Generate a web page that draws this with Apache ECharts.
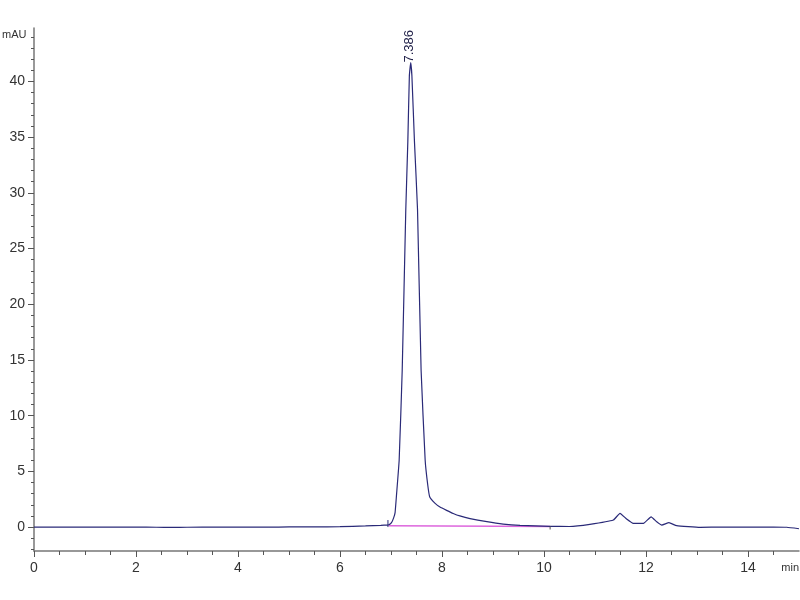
<!DOCTYPE html>
<html>
<head>
<meta charset="utf-8">
<script src="https://cdn.jsdelivr.net/npm/echarts@6/dist/echarts.min.js"></script>
<style>
html,body{margin:0;padding:0;background:#fff;}
#chart{width:800px;height:600px;}
</style>
</head>
<body>
<div id="chart"></div>
<script>
// Chromatogram trace (time in min, signal in mAU)
var timeMin = [0, 1, 2, 2.4, 2.7, 3, 3.6, 4, 4.6, 5, 5.5, 6, 6.5, 6.8, 6.93, 6.96, 7.01, 7.05, 7.08, 7.11, 7.16, 7.22, 7.29, 7.33, 7.36, 7.386, 7.41, 7.46, 7.52, 7.59, 7.67, 7.72, 7.76, 7.86, 7.96, 8.09, 8.22, 8.35, 8.55, 8.88, 9.2, 9.53, 10.12, 10.5, 10.9, 11.36, 11.49, 11.62, 11.75, 11.95, 12.1, 12.21, 12.31, 12.45, 12.6, 13.06, 13.5, 14, 14.5, 14.76, 15];
var signalMAU = [0, 0, 0, -0.02, -0.03, -0.02, -0.01, 0, -0.01, 0.01, 0.02, 0.03, 0.1, 0.15, 0.18, 0.2, 0.4, 0.8, 1.3, 3.0, 6.0, 14.1, 28.5, 34.6, 40.5, 41.7, 40.5, 34.6, 28.5, 14.1, 6.0, 3.8, 2.7, 2.15, 1.8, 1.5, 1.22, 1.0, 0.76, 0.48, 0.27, 0.15, 0.06, 0.05, 0.24, 0.63, 1.23, 0.72, 0.33, 0.33, 0.92, 0.48, 0.18, 0.39, 0.12, -0.03, 0, 0, 0, -0.02, -0.15];

// Integration baseline
var baselineTime = [6.96, 10.12];
var baselineMAU = [0.12, 0.06];
// Peak start / end markers
var startMarkTime = [6.94, 6.94];
var startMarkMAU = [0, 0.63];
var endMarkTime = [10.12, 10.12];
var endMarkMAU = [0.06, -0.22];

// Peak annotation
var peakTime = 7.386;
var peakHeight = 41.7;
var peakLabel = '7.386';

// Axes ticks
var xMajorTicks = [0, 2, 4, 6, 8, 10, 12, 14];
var xMinorTicks = [0.5, 1, 1.5, 2.5, 3, 3.5, 4.5, 5, 5.5, 6.5, 7, 7.5, 8.5, 9, 9.5, 10.5, 11, 11.5, 12.5, 13, 13.5, 14.5];
var yMajorTicks = [0, 5, 10, 15, 20, 25, 30, 35, 40];
var yMinorTicks = [-2, -1, 1, 2, 3, 4, 6, 7, 8, 9, 11, 12, 13, 14, 16, 17, 18, 19, 21, 22, 23, 24, 26, 27, 28, 29, 31, 32, 33, 34, 36, 37, 38, 39, 41, 42, 43, 44];

function pairs(xs, ys) { return xs.map(function (x, i) { return [x, ys[i]]; }); }

var FONT = '"Liberation Sans Narrow", "Liberation Sans", Arial, sans-serif';
var X_MIN = 0, X_MAX = 15, Y_MIN = -2.15, Y_MAX = 44.8;

var chart = echarts.init(document.getElementById('chart'));
chart.setOption({
  animation: false,
  backgroundColor: '#ffffff',
  grid: { left: 34, right: 1, top: 28, bottom: 49 },
  xAxis: [
    {
      type: 'value', min: X_MIN, max: X_MAX, position: 'bottom',
      axisLine: { show: true, onZero: false, lineStyle: { color: '#777', width: 1.5 } },
      axisTick: { show: true, length: 6, customValues: xMajorTicks, lineStyle: { color: '#555' } },
      axisLabel: { show: true, customValues: xMajorTicks, margin: 10, color: '#333', fontSize: 14, fontFamily: FONT },
      splitLine: { show: false }
    },
    {
      type: 'value', min: X_MIN, max: X_MAX, position: 'bottom',
      axisLine: { show: false, onZero: false },
      axisTick: { show: true, length: 4, customValues: xMinorTicks, lineStyle: { color: '#555' } },
      axisLabel: { show: false },
      splitLine: { show: false }
    }
  ],
  yAxis: [
    {
      type: 'value', min: Y_MIN, max: Y_MAX, position: 'left',
      axisLine: { show: true, onZero: false, lineStyle: { color: '#777', width: 1.5 } },
      axisTick: { show: true, length: 6, customValues: yMajorTicks, lineStyle: { color: '#555' } },
      axisLabel: { show: true, customValues: yMajorTicks, margin: 9, color: '#333', fontSize: 14, fontFamily: FONT },
      splitLine: { show: false }
    },
    {
      type: 'value', min: Y_MIN, max: Y_MAX, position: 'left',
      axisLine: { show: false, onZero: false },
      axisTick: { show: true, length: 3, customValues: yMinorTicks, lineStyle: { color: '#555' } },
      axisLabel: { show: false },
      splitLine: { show: false }
    }
  ],
  graphic: [
    { type: 'text', left: 2, top: 29, style: { text: 'mAU', fontSize: 11, fontFamily: FONT, fill: '#333' } },
    { type: 'text', right: 1, top: 562, style: { text: 'min', fontSize: 11, fontFamily: FONT, fill: '#333' } }
  ],
  series: [
    {
      type: 'line', name: 'baseline', data: pairs(baselineTime, baselineMAU),
      showSymbol: false, lineStyle: { color: '#dd66dd', width: 1.5 }, z: 2
    },
    {
      type: 'line', name: 'signal', data: pairs(timeMin, signalMAU),
      showSymbol: false, smooth: 0.12, lineStyle: { color: '#2a2a78', width: 1.2 }, z: 3,
      markPoint: {
        symbol: 'circle', symbolSize: 0,
        data: [{ coord: [peakTime, peakHeight] }],
        label: {
          show: true, formatter: peakLabel, position: 'inside', rotate: 90,
          align: 'left', verticalAlign: 'middle', offset: [0, -1],
          color: '#22224a', fontSize: 13, fontFamily: FONT
        }
      }
    },
    {
      type: 'line', name: 'start', data: pairs(startMarkTime, startMarkMAU),
      showSymbol: false, lineStyle: { color: '#2a2a78', width: 1 }, z: 3
    },
    {
      type: 'line', name: 'end', data: pairs(endMarkTime, endMarkMAU),
      showSymbol: false, lineStyle: { color: '#555', width: 1 }, z: 3
    }
  ]
});
</script>
</body>
</html>
